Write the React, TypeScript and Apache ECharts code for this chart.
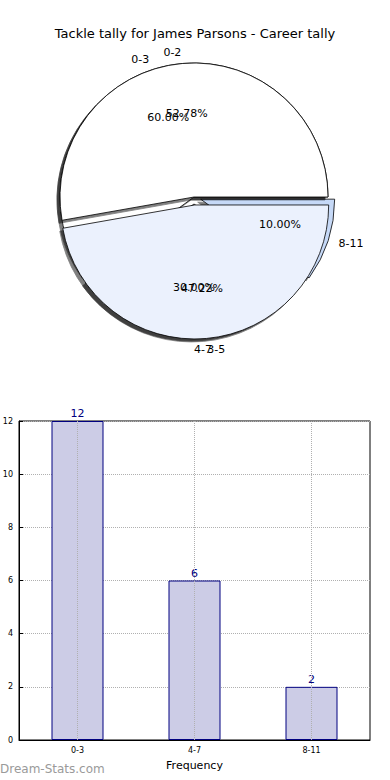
import React, { useEffect, useRef } from 'react';
import * as echarts from 'echarts';

const TITLE = 'Tackle tally for James Parsons - Career tally';
// Outer pie (drawn underneath): 3 bins
const tallyCats = ['0-3', '4-7', '8-11'];
const tallyPct = [60.0, 30.0, 10.0];
const tallyExplode = [false, true, true];
// Overlaid pie: 2 bins
const splitCats = ['0-2', '3-5'];
const splitPct = [52.78, 47.22];
const splitExplode = [false, true];
const sliceColors = ['#ffffff', '#ebf1fd', '#c6d9f7'];
// Bar chart
const barCats = ['0-3', '4-7', '8-11'];
const barValues = [12, 6, 2];
const yMin = 0;
const yMax = 12;
const yStep = 2;

const FONT = 'DejaVu Sans';
const R = 134;
const CENTER = [194, 197];

function pieShapes(names: string[], vals: number[], expl: boolean[], off: number) {
  return {
    type: 'pie',
    center: CENTER,
    radius: R,
    startAngle: 0,
    clockwise: false,
    selectedMode: 'multiple',
    selectedOffset: off,
    avoidLabelOverlap: false,
    labelLayout: { hideOverlap: false },
    silent: true,
    z: 2,
    data: names.map((n, i) => ({
      name: n,
      value: vals[i],
      selected: expl[i],
      itemStyle: { color: sliceColors[i] },
    })),
    itemStyle: {
      borderColor: '#000',
      borderWidth: 0.8,
      shadowColor: 'rgba(0,0,0,0.5)',
      shadowOffsetX: -3,
      shadowOffsetY: 3,
      shadowBlur: 1,
    },
    label: {
      show: true,
      position: 'outside',
      formatter: '{b}',
      fontSize: 11,
      color: '#000',
      fontFamily: FONT,
      distanceToLabelLine: 0,
    },
    labelLine: { show: false, length: 11, length2: 0 },
    emphasis: { disabled: true },
  };
}

function pieLabels(names: string[], vals: number[], expl: boolean[], off: number) {
  return {
    type: 'pie',
    center: CENTER,
    radius: R * 1.2,
    startAngle: 0,
    clockwise: false,
    selectedMode: 'multiple',
    selectedOffset: off,
    avoidLabelOverlap: false,
    labelLayout: { hideOverlap: false },
    silent: true,
    z: 5,
    data: names.map((n, i) => ({ name: n, value: vals[i], selected: expl[i] })),
    itemStyle: { color: 'rgba(0,0,0,0)', borderWidth: 0 },
    label: {
      show: true,
      position: 'inside',
      formatter: (p: any) => p.value.toFixed(2) + '%',
      fontSize: 11,
      color: '#000',
      fontFamily: FONT,
    },
    labelLine: { show: false },
    emphasis: { disabled: true },
  };
}

export default function App() {
  const ref = useRef<HTMLDivElement>(null);
  useEffect(() => {
    if (!ref.current) return;
    const chart = echarts.init(ref.current, undefined, { renderer: 'svg' });
    chart.setOption({
      animation: false,
      backgroundColor: '#fff',
      textStyle: { fontFamily: FONT },
      title: {
        text: TITLE,
        left: 'center',
        top: 22,
        textStyle: { fontSize: 13, fontWeight: 'normal', color: '#000', fontFamily: FONT },
      },
      grid: {
        left: 19,
        right: 20,
        top: 421,
        bottom: 40,
        outerBoundsMode: 'none',
        containLabel: false,
        show: true,
        borderColor: '#000',
        borderWidth: 1,
        backgroundColor: 'transparent',
      },
      xAxis: {
        type: 'category',
        data: barCats,
        name: 'Frequency',
        nameLocation: 'middle',
        nameGap: 20,
        nameTextStyle: { fontSize: 11, color: '#000' },
        axisLine: { lineStyle: { color: '#000', width: 1 } },
        axisTick: { show: true, inside: true, alignWithLabel: true, length: 4, lineStyle: { color: '#000' } },
        axisLabel: { fontSize: 8, color: '#000', margin: 6 },
        splitLine: { show: false },
      },
      yAxis: {
        type: 'value',
        min: yMin,
        max: yMax,
        interval: yStep,
        name: 'Stat Total Tally',
        nameLocation: 'middle',
        nameGap: 19,
        nameTextStyle: { fontSize: 11, color: '#000' },
        axisLine: { show: true, lineStyle: { color: '#000', width: 1 } },
        axisTick: { show: true, inside: true, length: 4, lineStyle: { color: '#000' } },
        axisLabel: { fontSize: 8, color: '#000', margin: 6 },
        splitLine: { show: true, lineStyle: { type: 'dotted', color: '#b0b0b0', width: 1 } },
      },
      graphic: [
        {
          type: 'text',
          left: 0,
          top: 763,
          style: { text: 'Dream-Stats.com', fill: '#9a9a9a', font: '12px "DejaVu Sans"' },
        },
      ],
      series: [
        pieShapes(tallyCats, tallyPct, tallyExplode, 7),
        pieShapes(splitCats, splitPct, splitExplode, 8),
        pieLabels(tallyCats, tallyPct, tallyExplode, 7),
        pieLabels(splitCats, splitPct, splitExplode, 8),
        {
          type: 'bar',
          data: barValues,
          barWidth: 52,
          z: 3,
          itemStyle: { color: '#ccccE6', borderColor: '#000080', borderWidth: 1 },
          label: { show: true, position: 'top', color: '#000080', fontSize: 11, distance: 2 },
          emphasis: { disabled: true },
          markLine: {
            silent: true,
            symbol: 'none',
            label: { show: false },
            lineStyle: { type: 'dotted', color: '#b0b0b0', width: 1 },
            data: barCats.map((c) => ({ xAxis: c })),
          },
        },
      ],
    });
    return () => chart.dispose();
  }, []);
  return (
    <div
      ref={ref}
      style={{ position: 'absolute', left: 0, top: 0, width: 390, height: 780, background: '#fff' }}
    />
  );
}
